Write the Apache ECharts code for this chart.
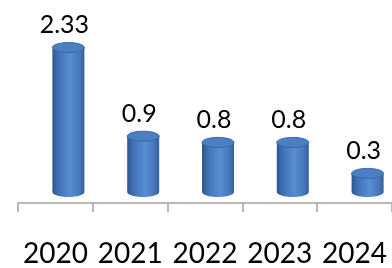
<!DOCTYPE html>
<html>
<head>
<meta charset="utf-8">
<script src="https://cdn.jsdelivr.net/npm/echarts@6/dist/echarts.min.js"></script>
<style>
  html, body { margin: 0; padding: 0; background: #fff; }
  #chart { width: 392px; height: 268px; }
</style>
</head>
<body>
<div id="chart"></div>
<script>
var years = ['2020', '2021', '2022', '2023', '2024'];
var values = [2.33, 0.9, 0.8, 0.8, 0.3];
var valueLabels = ['2.33', '0.9', '0.8', '0.8', '0.3'];

var chart = echarts.init(document.getElementById('chart'));

// cylinder drawn with a custom series, set back a little like the 3D original
function renderCylinder(params, api) {
    var i = api.value(0);
    var top = api.coord([i, api.value(1)]);
    var base = api.coord([i, 0]);
    var w = 32, ry = 5, shift = 13, lift = 11;
    var cx = top[0] + shift;
    var x = cx - w / 2;
    var yTop = top[1] - lift, yBase = base[1] - lift;
    var body = new echarts.graphic.LinearGradient(0, 0, 1, 0, [
        { offset: 0, color: '#2c568f' },
        { offset: 0.18, color: '#3f70b3' },
        { offset: 0.55, color: '#5a8dd2' },
        { offset: 0.85, color: '#4677bb' },
        { offset: 1, color: '#335f9c' }
    ]);
    return {
        type: 'group',
        children: [
            { type: 'ellipse', shape: { cx: cx, cy: yBase, rx: w / 2, ry: ry }, style: { fill: body } },
            { type: 'rect', shape: { x: x, y: yTop, width: w, height: yBase - yTop }, style: { fill: body } },
            { type: 'ellipse', shape: { cx: cx, cy: yTop, rx: w / 2, ry: ry },
              style: { fill: '#4a7fc3', stroke: '#3b68a6', lineWidth: 1 } },
            { type: 'text', x: cx - 4, y: yTop - ry - 5,
              style: { text: valueLabels[i], fill: '#000', font: '25px Lato', align: 'center', verticalAlign: 'bottom' } }
        ]
    };
}

chart.setOption({
    backgroundColor: '#ffffff',
    animation: false,
    grid: { left: 18, right: -4, top: 17, bottom: 52 },
    xAxis: {
        type: 'category',
        data: years,
        axisLine: { lineStyle: { color: '#a3a3a3', width: 1.5 } },
        axisTick: { show: true, length: 9, lineStyle: { color: '#a3a3a3', width: 1.5 } },
        axisLabel: { interval: 0, margin: 37, color: '#000', fontFamily: 'Lato', fontSize: 28 }
    },
    yAxis: {
        type: 'value',
        min: 0,
        max: 3,
        show: false
    },
    series: [{
        type: 'custom',
        renderItem: renderCylinder,
        encode: { x: 0, y: 1 },
        data: values.map(function (v, i) { return [i, v]; }),
        clip: false
    }]
});
</script>
</body>
</html>
